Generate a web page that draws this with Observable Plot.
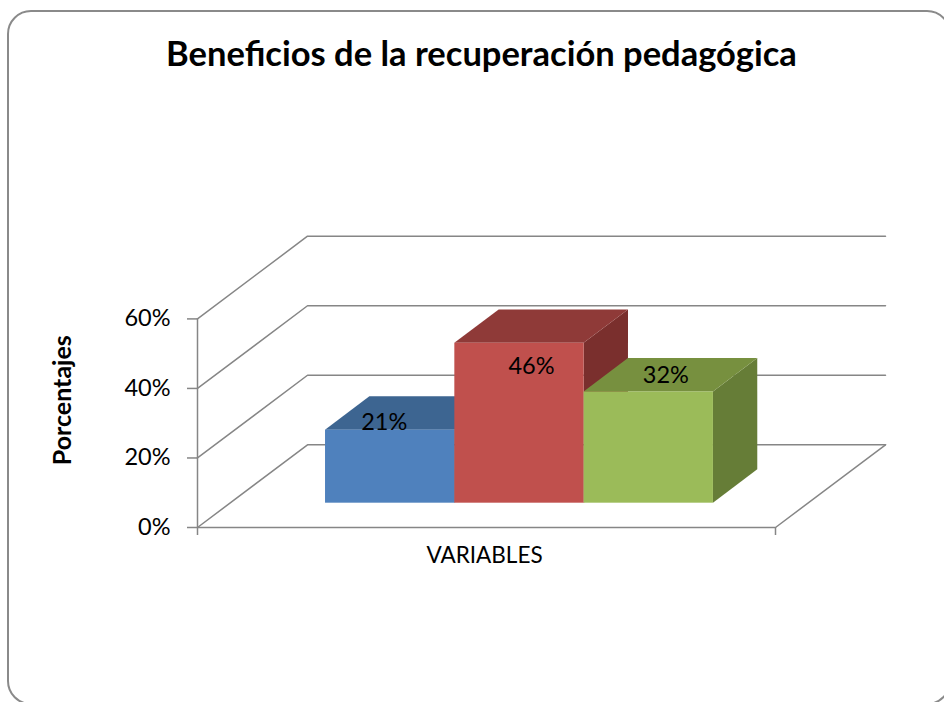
<!DOCTYPE html>
<html><head><meta charset="utf-8">
<script src="https://cdn.jsdelivr.net/npm/d3@7"></script>
<script src="https://cdn.jsdelivr.net/npm/@observablehq/plot@0.6"></script>
<style>
body{margin:0;background:#fff;}
#wrap{position:relative;width:944px;height:702px;overflow:hidden;font-family:Lato,sans-serif;}
#frame{position:absolute;left:7px;top:10px;width:944px;height:695px;border:2px solid #8a8a8a;border-radius:24px;box-sizing:border-box;}
#title{position:absolute;left:0;width:963px;top:32px;text-align:center;font-weight:700;font-size:34.5px;line-height:1.2;color:#000;white-space:nowrap;}
#chart{position:absolute;left:0;top:0;}
</style></head>
<body><div id="wrap"><div id="frame"></div><div id="title"></div><div id="chart"></div></div>
<script>
// ---- data ----
const title = "Beneficios de la recuperación pedagógica";
const series = ["Serie 1", "Serie 2", "Serie 3"];
const values = [0.21, 0.46, 0.32];
const valueLabels = ["21%", "46%", "32%"];
const yTicks = [0, 0.2, 0.4, 0.6];
const xLabel = "VARIABLES";
const yLabel = "Porcentajes";
const frontColors = ["#4F81BD", "#C0504D", "#9BBB59"];
const topColors = ["#3D6591", "#8F3A38", "#77903F"];
const sideColors = ["#33547A", "#7A2F2D", "#667D37"];

document.getElementById("title").textContent = title;

// ---- layout ----
const W = 944, H = 702;
const mL = 197, mR = 169, mT = 318.4, mB = 175;
const xDomain = [-0.74, 3.73];
const yDomain = [0, 0.6];
const kx = (W - mL - mR) / (xDomain[1] - xDomain[0]);
const ky = (H - mT - mB) / (yDomain[1] - yDomain[0]);
const Dx = 110 / kx, Dy = 82.7 / ky;      // depth of the box (oblique projection)
const tf = 0.294, tb = 0.697;             // bar front/back depth
const gray = "#868686";
const [x0, x1] = xDomain;

const gridLines = yTicks.flatMap(v => [
  {k: v, x: x0, y: v}, {k: v, x: x0 + Dx, y: v + Dy}, {k: v, x: x1 + Dx, y: v + Dy}
]);
const floorLine = [{x: x0, y: 0}, {x: x1, y: 0}, {x: x1 + Dx, y: Dy}];

const sides = values.flatMap((v, i) => [
  {i, x: i + 1 + tf * Dx, y1: tf * Dy, y2: v + tf * Dy},
  {i, x: i + 1 + tb * Dx, y1: tb * Dy, y2: v + tb * Dy}
]);
const tops = values.flatMap((v, i) => [
  {i, y: v + tf * Dy, x1: i + tf * Dx, x2: i + 1 + tf * Dx},
  {i, y: v + tb * Dy, x1: i + tb * Dx, x2: i + 1 + tb * Dx}
]);
const fronts = values.map((v, i) => ({i, x1: i + tf * Dx, x2: i + 1 + tf * Dx, y1: tf * Dy, y2: v + tf * Dy}));
const labels = values.map((v, i) => ({i, x: i + 0.5 + tf * Dx, y: v + tf * Dy, text: valueLabels[i]}));
const labelNudge = [[-6, -8], [12, 23], [17, -16]];

const chart = Plot.plot({
  width: W, height: H,
  marginLeft: mL, marginRight: mR, marginTop: mT, marginBottom: mB,
  x: {domain: xDomain, axis: null},
  y: {domain: yDomain, axis: null},
  color: {type: "identity"},
  style: {fontFamily: "Lato, sans-serif", color: "#000", background: "transparent", overflow: "visible"},
  marks: [
    Plot.line(gridLines, {x: "x", y: "y", z: "k", stroke: gray, strokeWidth: 1.5}),
    Plot.line(floorLine, {x: "x", y: "y", stroke: gray, strokeWidth: 1.5}),
    Plot.ruleX([x0], {y1: yDomain[0], y2: yDomain[1], stroke: gray, strokeWidth: 1.5}),
    Plot.axisY({ticks: yTicks, tickSize: 10, tickFormat: () => "", stroke: gray, strokeWidth: 1.5, label: null}),
    Plot.axisY({ticks: yTicks, tickSize: 0, tickPadding: 27, tickFormat: d3.format(".0%"), fontSize: 23.5, fill: "#000", label: null}),
    Plot.axisX({ticks: [x0, x1], tickSize: 8, tickFormat: () => "", stroke: gray, strokeWidth: 1.5, label: null}),
    Plot.areaY(sides, {x: "x", y1: "y1", y2: "y2", z: "i", fill: d => sideColors[d.i]}),
    Plot.areaX(tops, {y: "y", x1: "x1", x2: "x2", z: "i", fill: d => topColors[d.i]}),
    Plot.rect(fronts, {x1: "x1", x2: "x2", y1: "y1", y2: "y2", fill: d => frontColors[d.i]}),
    ...labels.map((d, j) => Plot.text([d], {x: "x", y: "y", text: "text", fontSize: 23.5, fill: "#000", dx: labelNudge[j][0], dy: labelNudge[j][1]})),
    Plot.text([yLabel], {frameAnchor: "left", textAnchor: "middle", rotate: -90, dx: -135, dy: -23, fontSize: 25, fontWeight: "bold", fill: "#000"}),
    Plot.text([xLabel], {frameAnchor: "bottom", dx: -2, dy: 35, fontSize: 22.5, fill: "#000"})
  ]
});
document.getElementById("chart").appendChild(chart);
</script>
</body></html>
